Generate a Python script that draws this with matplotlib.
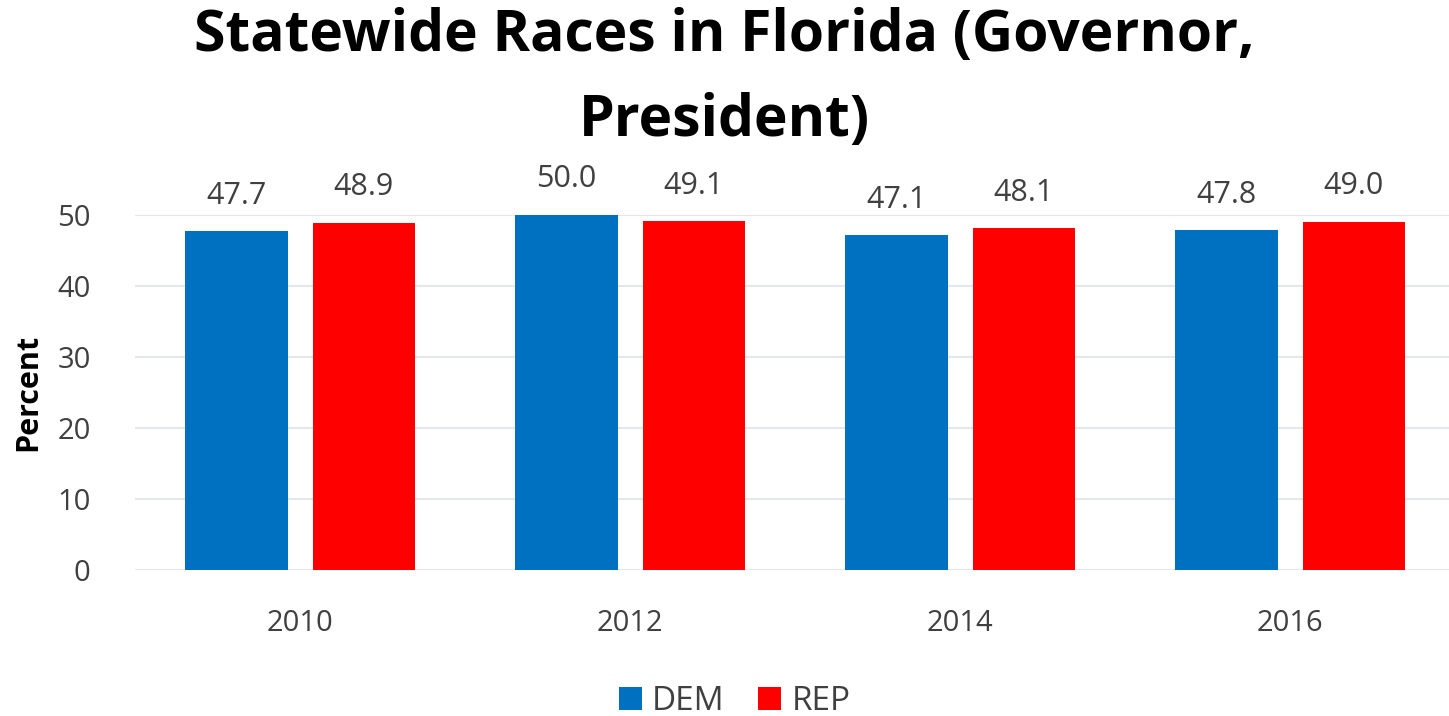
import numpy as np
import matplotlib
matplotlib.use("Agg")
import matplotlib.pyplot as plt

years = ["2010", "2012", "2014", "2016"]
dem = [47.7, 50.0, 47.1, 47.8]
rep = [48.9, 49.1, 48.1, 49.0]

plt.rcParams["font.family"] = ["Open Sans", "DejaVu Sans"]

fig = plt.figure(figsize=(14.49, 7.16), dpi=100)
ax = fig.add_axes([0.0932, 0.204, 0.911, 0.496])

x = np.arange(len(years))
w = 0.31
off = (w + 0.076) / 2
b1 = ax.bar(x - off, dem, w, color="#0070C0", label="DEM", zorder=3)
b2 = ax.bar(x + off, rep, w, color="#FF0000", label="REP", zorder=3)

for bars in (b1, b2):
    for b in bars:
        ax.text(b.get_x() + b.get_width() / 2, b.get_height() + 2.9,
                f"{b.get_height():.1f}", ha="center", va="bottom",
                fontsize=22, color="#404040")

ax.set_xlim(-0.5, 3.5)
ax.set_ylim(0, 50)
ax.set_yticks(range(0, 51, 10))
ax.set_xticks(x)
ax.set_xticklabels(years)
ax.tick_params(axis="both", length=0, labelsize=21, labelcolor="#404040")
ax.tick_params(axis="x", pad=28)
ax.tick_params(axis="y", pad=32)
ax.grid(axis="y", color="#E4E7EE", linewidth=1.5, zorder=0)
ax.set_axisbelow(True)
for s in ax.spines.values():
    s.set_visible(False)
ax.set_ylabel("Percent", fontsize=22, fontweight="bold", labelpad=10)

fig.suptitle("Statewide Races in Florida (Governor,\nPresident)", fontsize=41,
             fontweight="bold", y=0.99, x=0.5, linespacing=1.62)

fig.legend(handles=[b1, b2], loc="lower center", bbox_to_anchor=(0.507, -0.045),
           ncol=2, frameon=False, fontsize=24, handlelength=0.7, handleheight=0.7,
           columnspacing=1.0, handletextpad=0.3, labelcolor="#404040")

fig.savefig("out.png", dpi=100)
